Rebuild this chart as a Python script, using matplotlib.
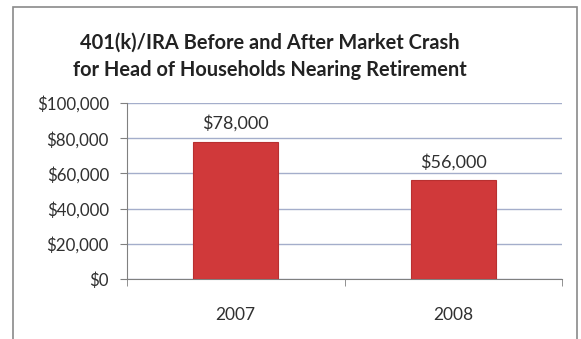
import matplotlib
matplotlib.use("Agg")
import matplotlib.pyplot as plt
from matplotlib.patches import Rectangle
from matplotlib.ticker import FuncFormatter

categories = ["2007", "2008"]
values = [78000, 56000]
value_labels = ["$78,000", "$56,000"]
yticks = [0, 20000, 40000, 60000, 80000, 100000]
title = "401(k)/IRA Before and After Market Crash\nfor Head of Households Nearing Retirement"

W, H = 581, 339
fig = plt.figure(figsize=(W / 100, H / 100), dpi=100)
fig.patch.set_facecolor("white")
plt.rcParams["font.family"] = ["Lato", "DejaVu Sans"]

# outer chart border
fig.patches.append(Rectangle((13 / W, -0.05), (577 - 13) / W, 1 - 7 / H + 0.05,
                             transform=fig.transFigure, fill=False,
                             edgecolor="#8a8a8a", linewidth=1.2))

left, right, top, bottom = 127, 562, 103, 279
ax = fig.add_axes([left / W, 1 - bottom / H, (right - left) / W, (bottom - top) / H])
ax.set_facecolor("white")

x = list(range(len(categories)))
ax.bar(x, values, width=0.39, color="#d0393a", edgecolor="#b83030", linewidth=0.8, zorder=3)
for xi, v, lab in zip(x, values, value_labels):
    ax.annotate(lab, (xi, v), xytext=(0, 7), textcoords="offset points",
                ha="center", va="bottom", fontsize=13, color="#303030")

ax.set_xlim(-0.5, len(categories) - 0.5)
ax.set_ylim(0, 100000)
ax.set_yticks(yticks)
ax.yaxis.set_major_formatter(FuncFormatter(lambda v, p: "${:,.0f}".format(v)))
ax.set_xticks(x)
ax.set_xticklabels(categories)
ax.set_xticks([-0.5, 0.5, 1.5], minor=True)
ax.tick_params(axis="x", which="major", length=0, pad=20, labelsize=12.5, labelcolor="#303030")
ax.tick_params(axis="x", which="minor", length=5, color="#808080", direction="out")
ax.tick_params(axis="y", length=5, color="#808080", labelsize=12.2, labelcolor="#303030", pad=8)
ax.grid(axis="y", color="#a4aecb", linewidth=1.0, zorder=0)
for s in ["top", "right"]:
    ax.spines[s].set_visible(False)
ax.spines["left"].set_color("#808080")
ax.spines["bottom"].set_color("#808080")

fig.text(270 / W, 1 - 56 / H, title, ha="center", va="center",
         fontsize=14.4, fontweight="bold", color="#222222", linespacing=1.45)

fig.savefig("out.png", dpi=100, facecolor="white")
